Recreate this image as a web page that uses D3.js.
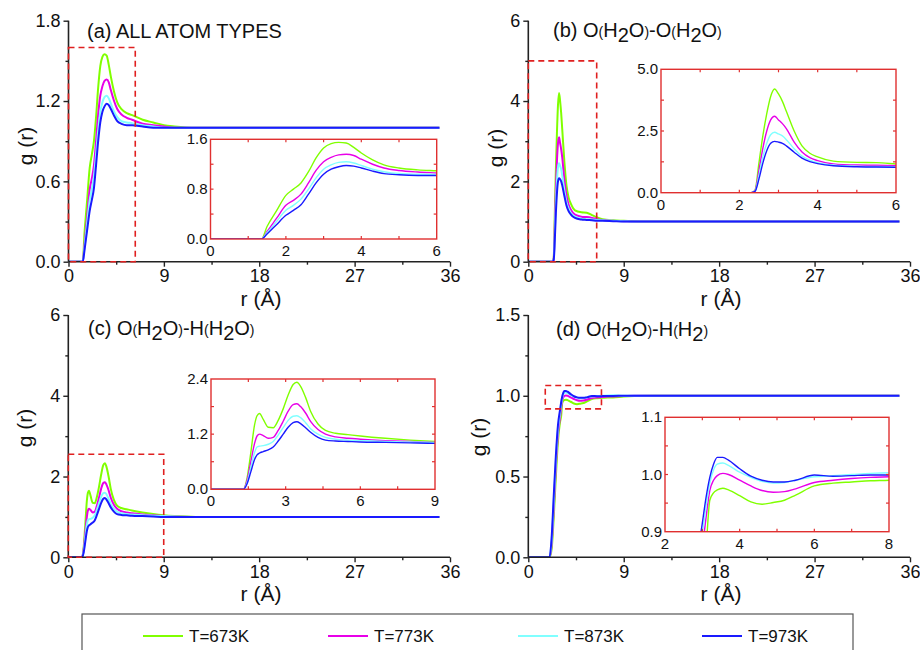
<!DOCTYPE html>
<html><head><meta charset="utf-8">
<script src="https://cdn.jsdelivr.net/npm/d3@7"></script>
<style>body{margin:0;background:#fff}svg{display:block;font-family:"Liberation Sans",Arial,sans-serif}</style>
</head><body><svg id="c" width="920" height="650"></svg>
<script>
// ---------- DATA ----------
const temps = ["T=673K", "T=773K", "T=873K", "T=973K"];

// (a) all atom types
const rA = [0,1.2,1.35,1.5,1.75,2.0,2.2,2.4,2.6,2.8,3.0,3.2,3.4,3.6,3.8,4.0,4.3,4.6,5.0,5.5,6.0,7,8,9,10,12,15,20,25,30,35];
const gA673 = [0,0,0,0.2,0.45,0.70,0.80,0.90,1.08,1.30,1.46,1.53,1.55,1.54,1.47,1.38,1.27,1.19,1.14,1.11,1.095,1.06,1.04,1.02,1.01,1.0,1.0,1.0,1.0,1.0,1.0];
const gA773 = [0,0,0,0.12,0.33,0.54,0.62,0.72,0.90,1.10,1.24,1.31,1.35,1.36,1.34,1.28,1.20,1.14,1.10,1.075,1.06,1.03,1.02,1.01,1.0,1.0,1.0,1.0,1.0,1.0,1.0];
const gA873 = [0,0,0,0.10,0.28,0.46,0.54,0.64,0.80,0.98,1.12,1.19,1.23,1.24,1.22,1.18,1.12,1.08,1.05,1.04,1.035,1.02,1.01,1.0,1.0,1.0,1.0,1.0,1.0,1.0,1.0];
const gA973 = [0,0,0,0.08,0.23,0.38,0.46,0.55,0.72,0.90,1.04,1.12,1.16,1.18,1.17,1.14,1.09,1.05,1.03,1.02,1.02,1.01,1.0,1.0,1.0,1.0,1.0,1.0,1.0,1.0,1.0];

// (b) O(H2O)-O(H2O)
const rB = [0,2.3,2.4,2.5,2.6,2.7,2.8,2.9,3.0,3.1,3.2,3.4,3.6,3.8,4.0,4.4,5.0,5.5,6.0,6.5,7,8,9,10,12,15,20,25,30,35];
const gB673 = [0,0,0.1,1.2,2.3,3.2,3.9,4.2,4.0,3.7,3.3,2.5,1.9,1.6,1.45,1.28,1.23,1.22,1.16,1.10,1.06,1.03,1.02,1.01,1.0,1.0,1.0,1.0,1.0,1.0];
const gB773 = [0,0,0.08,0.9,1.8,2.5,2.95,3.1,2.95,2.8,2.6,2.05,1.65,1.42,1.3,1.17,1.12,1.11,1.09,1.06,1.04,1.02,1.01,1.0,1.0,1.0,1.0,1.0,1.0,1.0];
const gB873 = [0,0,0.06,0.7,1.45,2.0,2.35,2.45,2.38,2.3,2.15,1.78,1.48,1.32,1.22,1.12,1.07,1.06,1.05,1.04,1.03,1.02,1.01,1.0,1.0,1.0,1.0,1.0,1.0,1.0];
const gB973 = [0,0,0.05,0.55,1.2,1.7,2.0,2.08,2.05,2.0,1.9,1.64,1.4,1.26,1.18,1.09,1.05,1.04,1.03,1.02,1.02,1.01,1.0,1.0,1.0,1.0,1.0,1.0,1.0,1.0];

// (c) O(H2O)-H(H2O)
const rC = [0,1.3,1.45,1.6,1.75,1.85,1.95,2.1,2.3,2.5,2.7,2.9,3.1,3.3,3.45,3.6,3.8,4.0,4.3,4.6,5.0,5.5,6.0,7.0,8.0,9.0,10,12,15,20,25,30,35];
const gC673 = [0,0,0.25,0.8,1.4,1.6,1.65,1.52,1.35,1.34,1.5,1.75,2.05,2.28,2.33,2.24,2.0,1.7,1.42,1.28,1.22,1.19,1.16,1.11,1.07,1.04,1.02,1.0,1.0,1.0,1.0,1.0,1.0];
const gC773 = [0,0,0.2,0.6,1.0,1.16,1.2,1.17,1.11,1.13,1.28,1.48,1.7,1.84,1.86,1.8,1.66,1.48,1.3,1.2,1.14,1.11,1.09,1.06,1.04,1.02,1.01,1.0,1.0,1.0,1.0,1.0,1.0];
const gC873 = [0,0,0.15,0.48,0.8,0.92,0.94,0.95,0.98,1.04,1.18,1.34,1.5,1.59,1.6,1.56,1.45,1.32,1.2,1.13,1.09,1.07,1.06,1.04,1.03,1.02,1.01,1.0,1.0,1.0,1.0,1.0,1.0];
const gC973 = [0,0,0.12,0.38,0.65,0.75,0.79,0.82,0.86,0.92,1.05,1.2,1.35,1.45,1.47,1.43,1.34,1.24,1.13,1.07,1.05,1.04,1.03,1.02,1.01,1.0,1.0,1.0,1.0,1.0,1.0,1.0,1.0];

// (d) O(H2O)-H(H2)
const rD = [0,2.0,2.2,2.4,2.6,2.8,3.0,3.1,3.2,3.3,3.4,3.55,3.7,4.0,4.3,4.6,4.9,5.2,5.5,6.0,6.5,7.0,7.5,8.0,9,10,12,15,20,25,30,35];
const gD673 = [0,0,0.05,0.25,0.5,0.72,0.84,0.875,0.955,0.968,0.973,0.976,0.973,0.963,0.952,0.948,0.951,0.955,0.964,0.980,0.985,0.987,0.989,0.990,0.995,0.998,1.0,1.0,1.0,1.0,1.0,1.0];
const gD773 = [0,0,0.08,0.3,0.56,0.76,0.87,0.925,0.972,0.99,0.998,1.002,1.0,0.99,0.98,0.972,0.969,0.970,0.975,0.986,0.99,0.993,0.995,0.996,0.998,1.0,1.0,1.0,1.0,1.0,1.0,1.0];
const gD873 = [0,0,0.1,0.34,0.6,0.79,0.895,0.945,0.985,1.008,1.018,1.02,1.016,1.004,0.995,0.988,0.985,0.986,0.99,0.996,0.998,1.0,1.002,1.003,1.0,1.0,1.0,1.0,1.0,1.0,1.0,1.0];
const gD973 = [0,0,0.12,0.38,0.63,0.82,0.915,0.96,0.995,1.018,1.030,1.030,1.025,1.01,0.997,0.99,0.987,0.987,0.99,0.999,0.997,0.998,0.999,0.999,1.0,1.0,1.0,1.0,1.0,1.0,1.0,1.0];

// tick values
const xTicksMain = [0, 9, 18, 27, 36];
const yTicksA = [0, 0.6, 1.2, 1.8], yTicksB = [0, 2, 4, 6], yTicksC = [0, 2, 4, 6], yTicksD = [0, 0.5, 1.0, 1.5];
const inXTicksA = [0, 2, 4, 6], inYTicksA = [0, 0.8, 1.6];
const inXTicksB = [0, 2, 4, 6], inYTicksB = [0, 2.5, 5.0];
const inXTicksC = [0, 3, 6, 9], inYTicksC = [0, 1.2, 2.4];
const inXTicksD = [2, 4, 6, 8], inYTicksD = [0.9, 1.0, 1.1];

// ---------- STYLE / LAYOUT ----------
const colors = ["#80ff00", "#e800e8", "#80ffff", "#1a1aff"];
const svg = d3.select("#c");
const font = '"Liberation Sans",Arial,sans-serif';

const panels = [
  {r: rA, g: [gA673, gA773, gA873, gA973], px: [68.5, 450], py: [261.7, 20.7], yDom: [0, 1.8], yTicks: yTicksA, yMinor: 0.3, yFmt: d3.format(".1f"),
   title: "A", tx: 87, ty: 38, gx: 25, gy: 146, rx: 261, ry: 306,
   dash: [0, 6.3, 0, 1.6],
   inset: {px: [210.5, 436.7], py: [239, 139.3], xDom: [0, 6], yDom: [0, 1.6], xT: inXTicksA, yT: inYTicksA, xMinor: 1, yMinor: 0.4, yFmt: d3.format(".1f")}},
  {r: rB, g: [gB673, gB773, gB873, gB973], px: [528.3, 910], py: [261.7, 20.7], yDom: [0, 6], yTicks: yTicksB, yMinor: 1, yFmt: d3.format("d"),
   title: "O-O", tx: 553, ty: 37, gx: 495, gy: 148, rx: 721, ry: 306,
   dash: [0, 6.45, 0, 5],
   inset: {px: [661, 896], py: [192.7, 69.3], xDom: [0, 6], yDom: [0, 5], xT: inXTicksB, yT: inYTicksB, xMinor: 1, yMinor: 1.25, yFmt: d3.format(".1f")}},
  {r: rC, g: [gC673, gC773, gC873, gC973], px: [68.3, 450], py: [557.3, 315], yDom: [0, 6], yTicks: yTicksC, yMinor: 1, yFmt: d3.format("d"),
   title: "O-H2O", tx: 88, ty: 335, gx: 24, gy: 428, rx: 261, ry: 601,
   dash: [0, 9, 0, 2.55],
   inset: {px: [211, 435], py: [489.3, 379], xDom: [0, 9], yDom: [0, 2.4], xT: inXTicksC, yT: inYTicksC, xMinor: 1.5, yMinor: 0.6, yFmt: d3.format(".1f")}},
  {r: rD, g: [gD673, gD773, gD873, gD973], px: [528.3, 910], py: [557.3, 315], yDom: [0, 1.5], yTicks: yTicksD, yMinor: 0.25, yFmt: d3.format(".1f"),
   title: "O-H2", tx: 556, ty: 336, gx: 478, gy: 437, rx: 721, ry: 601,
   dash: [1.6, 6.9, 0.919, 1.064],
   inset: {px: [665, 889], py: [531.7, 417.3], xDom: [2, 8], yDom: [0.9, 1.1], xT: inXTicksD, yT: inYTicksD, xMinor: 1, yMinor: 0.05, yFmt: d3.format(".1f")}}
];

function range(a, b, s) { const out = []; for (let v = a; v <= b + 1e-9; v += s) out.push(+v.toFixed(6)); return out; }

function titleParts(kind) {
  // [text, type] type: 0 normal, 1 small paren, 2 subscript
  if (kind === "A") return [["(a) ALL ATOM TYPES", 0]];
  const pre = kind === "O-O" ? "(b) " : kind === "O-H2O" ? "(c) " : "(d) ";
  const P = [[pre + "O", 0], ["(", 1], ["H", 0], ["2", 2], ["O", 0], [")", 1]];
  if (kind === "O-O") P.push(["-O", 0], ["(", 1], ["H", 0], ["2", 2], ["O", 0], [")", 1]);
  else if (kind === "O-H2O") P.push(["-H", 0], ["(", 1], ["H", 0], ["2", 2], ["O", 0], [")", 1]);
  else P.push(["-H", 0], ["(", 1], ["H", 0], ["2", 2], [")", 1]);
  return P;
}

panels.forEach((p, pi) => {
  const x = d3.scaleLinear().domain([0, 36]).range(p.px);
  const y = d3.scaleLinear().domain(p.yDom).range(p.py);
  const g = svg.append("g");
  const clipId = "clipm" + pi;
  svg.append("clipPath").attr("id", clipId).append("rect")
    .attr("x", p.px[0]).attr("y", p.py[1] - 2).attr("width", p.px[1] - p.px[0]).attr("height", p.py[0] - p.py[1] + 2);

  // lines
  const line = d3.line().x((d, i) => x(p.r[i])).y(d => y(d)).curve(d3.curveMonotoneX);
  p.g.forEach((arr, k) => {
    g.append("path").attr("d", line(arr)).attr("fill", "none").attr("stroke", colors[k])
      .attr("stroke-width", 2).attr("clip-path", `url(#${clipId})`);
  });

  // axes
  const ax = g.append("g").attr("transform", `translate(0,${p.py[0]})`)
    .call(d3.axisBottom(x).tickValues(xTicksMain).tickSize(5).tickPadding(3).tickFormat(d3.format("d")));
  g.append("g").attr("transform", `translate(0,${p.py[0]})`)
    .call(d3.axisBottom(x).tickValues(range(4.5, 31.5, 9)).tickSize(3).tickFormat(""))
    .select(".domain").remove();
  const ay = g.append("g").attr("transform", `translate(${p.px[0]},0)`)
    .call(d3.axisLeft(y).tickValues(p.yTicks).tickSize(5).tickPadding(3).tickFormat(p.yFmt));
  g.append("g").attr("transform", `translate(${p.px[0]},0)`)
    .call(d3.axisLeft(y).tickValues(range(p.yDom[0] + p.yMinor, p.yDom[1], p.yMinor * 2)).tickSize(3).tickFormat(""))
    .select(".domain").remove();
  g.selectAll(".domain").attr("stroke", "#222").attr("stroke-width", 1.6);
  g.selectAll(".tick line").attr("stroke", "#222").attr("stroke-width", 1.4);
  g.selectAll(".tick text").attr("font-size", 18).attr("font-family", font).attr("fill", "#111");
  ax.selectAll(".domain").attr("d", `M${p.px[0]},0H${p.px[1]}`);
  ay.selectAll(".domain").attr("d", `M0,${p.py[0]}V${p.py[1]}`);

  // axis titles
  g.append("text").attr("x", p.rx).attr("y", p.ry).attr("text-anchor", "middle")
    .attr("font-size", 21).attr("font-family", font).attr("fill", "#111").text("r (Å)");
  g.append("text").attr("transform", `translate(${p.gx},${p.gy}) rotate(-90)`).attr("text-anchor", "middle")
    .attr("dominant-baseline", "central").attr("font-size", 21).attr("font-family", font).attr("fill", "#111").text("g (r)");

  // panel title
  const t = g.append("text").attr("x", p.tx).attr("y", p.ty).attr("font-size", 20).attr("font-family", font).attr("fill", "#111");
  titleParts(p.title).forEach(([s, type], i, arr) => {
    const prev = i > 0 ? arr[i - 1][1] : 0;
    const sp = t.append("tspan").text(s);
    if (type === 1) sp.attr("font-size", 14);
    if (type === 2) sp.attr("dy", 5);
    else if (prev === 2) sp.attr("dy", -5);
  });

  // dashed zoom rect
  const [dx0, dx1, dy0, dy1] = p.dash;
  g.append("rect").attr("x", x(dx0)).attr("y", y(dy1)).attr("width", x(dx1) - x(dx0)).attr("height", y(dy0) - y(dy1))
    .attr("fill", "none").attr("stroke", "#e02020").attr("stroke-width", 1.6).attr("stroke-dasharray", "6,4");

  // inset
  const I = p.inset;
  const ix = d3.scaleLinear().domain(I.xDom).range(I.px);
  const iy = d3.scaleLinear().domain(I.yDom).range(I.py);
  const ig = svg.append("g");
  ig.append("rect").attr("x", I.px[0]).attr("y", I.py[1]).attr("width", I.px[1] - I.px[0]).attr("height", I.py[0] - I.py[1]).attr("fill", "#fff");
  const cid = "clipi" + pi;
  svg.append("clipPath").attr("id", cid).append("rect")
    .attr("x", I.px[0]).attr("y", I.py[1]).attr("width", I.px[1] - I.px[0]).attr("height", I.py[0] - I.py[1]);
  const iline = d3.line().x((d, i) => ix(p.r[i])).y(d => iy(d)).curve(d3.curveMonotoneX);
  p.g.forEach((arr, k) => {
    ig.append("path").attr("d", iline(arr)).attr("fill", "none").attr("stroke", colors[k])
      .attr("stroke-width", 1.4).attr("clip-path", `url(#${cid})`);
  });
  const xAll = range(I.xDom[0] + I.xMinor, I.xDom[1] - I.xMinor * 0.5, I.xMinor);
  const yAll = range(I.yDom[0] + I.yMinor, I.yDom[1] - I.yMinor * 0.5, I.yMinor);
  const tk = ig.append("g").attr("stroke", "#e03030").attr("stroke-width", 1.2);
  xAll.forEach(v => {
    tk.append("line").attr("x1", ix(v)).attr("x2", ix(v)).attr("y1", I.py[0]).attr("y2", I.py[0] - 3);
    tk.append("line").attr("x1", ix(v)).attr("x2", ix(v)).attr("y1", I.py[1]).attr("y2", I.py[1] + 3);
  });
  yAll.forEach(v => {
    tk.append("line").attr("y1", iy(v)).attr("y2", iy(v)).attr("x1", I.px[0]).attr("x2", I.px[0] + 3);
    tk.append("line").attr("y1", iy(v)).attr("y2", iy(v)).attr("x1", I.px[1]).attr("x2", I.px[1] - 3);
  });
  ig.append("rect").attr("x", I.px[0]).attr("y", I.py[1]).attr("width", I.px[1] - I.px[0]).attr("height", I.py[0] - I.py[1])
    .attr("fill", "none").attr("stroke", "#e03030").attr("stroke-width", 1.4);
  ig.selectAll(".xl").data(I.xT).join("text").attr("x", d => ix(d)).attr("y", I.py[0] + 17)
    .attr("text-anchor", "middle").attr("font-size", 15).attr("font-family", font).attr("fill", "#111").text(d => d);
  ig.selectAll(".yl").data(I.yT).join("text").attr("x", I.px[0] - 3).attr("y", d => iy(d) + 5)
    .attr("text-anchor", "end").attr("font-size", 15).attr("font-family", font).attr("fill", "#111").text(d => I.yFmt(d));
});

// legend
const leg = svg.append("g");
leg.append("rect").attr("x", 82).attr("y", 614).attr("width", 771).attr("height", 60)
  .attr("fill", "none").attr("stroke", "#555").attr("stroke-width", 1.2);
const legX = [143, 328, 518, 702];
temps.forEach((t, k) => {
  leg.append("line").attr("x1", legX[k]).attr("x2", legX[k] + 40).attr("y1", 636).attr("y2", 636)
    .attr("stroke", colors[k]).attr("stroke-width", 2);
  leg.append("text").attr("x", legX[k] + 46).attr("y", 642).attr("font-size", 17).attr("font-family", font)
    .attr("fill", "#111").text(t);
});
</script></body></html>
